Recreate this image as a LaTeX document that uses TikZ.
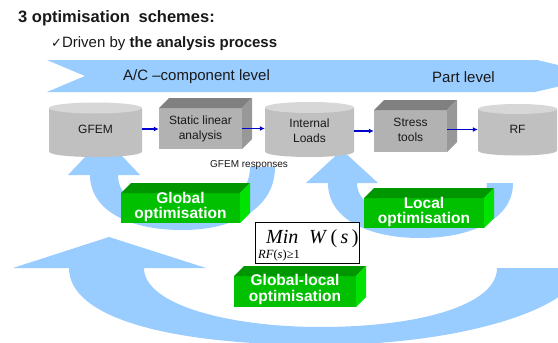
\documentclass[tikz,border=0pt]{standalone}
\usepackage{fontspec}
\setmainfont{Liberation Sans}
\newfontfamily\symfont{DejaVu Sans}
\newfontfamily\timesfont{Liberation Serif}
\usetikzlibrary{arrows.meta}
\definecolor{arcblue}{RGB}{153,204,255}
\definecolor{flowblue}{RGB}{0,0,204}
\definecolor{cylbody}{RGB}{192,192,192}
\definecolor{cyltop}{RGB}{215,215,215}
\definecolor{boxfront}{RGB}{178,178,178}
\definecolor{boxtop}{RGB}{128,128,128}
\definecolor{boxside}{RGB}{152,152,152}
\definecolor{gfront}{RGB}{0,192,0}
\definecolor{gtop}{RGB}{0,150,0}
\definecolor{gside}{RGB}{0,226,0}
\definecolor{txtdark}{RGB}{25,25,25}
% cube: x0 y0 x1 y1 front top side (depth 10)
\newcommand\mycube[7]{%
  \fill[#5] (#1,#2+10) rectangle (#3-10,#4);
  \fill[#6] (#1,#2+10) -- (#1+10,#2) -- (#3,#2) -- (#3-10,#2+10) -- cycle;
  \fill[#7] (#3-10,#2+10) -- (#3,#2) -- (#3,#4-10) -- (#3-10,#4) -- cycle;}
% cylinder: x0 x1 ytop ybottom ry
\newcommand\mycyl[5]{%
  \fill[cylbody] (#1,#3) -- (#1,#4) .. controls (#1,#4+1.333*#5) and (#2,#4+1.333*#5) .. (#2,#4) -- (#2,#3) -- cycle;
  \fill[cyltop] ({(#1+#2)/2},#3) ellipse [x radius={(#2-#1)/2}, y radius=#5];}
\begin{document}
\begin{tikzpicture}[x=1pt,y=-1pt,
  flow/.style={draw=flowblue, line width=1.3pt, -{Latex[length=5pt,width=5pt]}},
  lbl/.style={inner sep=0pt, text=txtdark, align=center},
  gtxt/.style={inner sep=0pt, text=white, align=center, font=\fontsize{15.5}{15.5}\selectfont\bfseries},
  shapenode/.style={inner sep=0pt, text=txtdark, align=center, font=\fontsize{12}{15}\selectfont}]
\useasboundingbox (0,0) rectangle (558,343);
\clip (0,0) rectangle (558,343);
\fill[white] (0,0) rectangle (558,343);

% title lines
\node[lbl, anchor=west] (title) at (18,18) {\fontsize{16.5}{16.5}\selectfont\bfseries 3 optimisation\hspace{4pt} schemes:};
\node[lbl, anchor=west] (drv) at (51,44) {{\symfont\fontsize{13}{13}\selectfont ✓}\fontsize{15}{15}\selectfont Driven by \textbf{the analysis process}};

% banner
\fill[arcblue] (47,60) -- (537,60) -- (604,76) -- (535,92) -- (47,92) -- (85,76) -- cycle;
\node[lbl, anchor=west] (aclvl) at (123,77) {\fontsize{15}{15}\selectfont A/C –component level};
\node[lbl, anchor=west] (partlvl) at (432,77) {\fontsize{15}{15}\selectfont Part level};

% loops
\fill[arcblue] (104,137) -- (140,175) -- (118,175)
  .. controls (118,200) and (145,212) .. (184,212)
  .. controls (225,212) and (250,195) .. (250,167)
  -- (275,167)
  .. controls (275,208) and (235,230) .. (182,230)
  .. controls (125,230) and (90,208) .. (90,175)
  -- (68,175) -- cycle;
\fill[arcblue] (342,150) -- (378,183) -- (357,183)
  .. controls (357,205) and (385,218) .. (422,218)
  .. controls (460,218) and (487,205) .. (487,183)
  -- (513,183)
  .. controls (513,220) and (470,238) .. (420,238)
  .. controls (370,238) and (328,220) .. (328,183)
  -- (306,183) -- cycle;
\fill[arcblue] (109,237) -- (206,268) -- (144,268)
  .. controls (144,305) and (230,327) .. (320,327)
  .. controls (420,327) and (497,305) .. (497,268)
  -- (580,268)
  .. controls (580,305) and (470,345) .. (320,345)
  .. controls (170,345) and (69,318) .. (69,268)
  -- (13,268) -- cycle;

% process shapes
\mycyl{49}{142}{108}{151.5}{5.5}
\mycube{159}{98}{252}{149}{boxfront}{boxtop}{boxside}
\mycyl{265}{354}{107.5}{151.5}{5.5}
\mycube{374}{100}{457}{152}{boxfront}{boxtop}{boxside}
\mycyl{478}{557}{109}{150.5}{5}

\node[shapenode, minimum width=93pt] (gfem) at (95.5,129) {GFEM};
\node[shapenode, minimum width=83pt] (sla) at (200.5,128.5) {Static linear\\analysis};
\node[shapenode, minimum width=89pt] (il) at (309.5,131) {Internal\\Loads};
\node[shapenode, minimum width=73pt] (st) at (410.5,129.5) {Stress\\tools};
\node[shapenode, minimum width=79pt] (rf) at (517.5,129) {RF};

\draw[flow] (gfem.east) -- (gfem.east -| sla.west);
\draw[flow] (sla.east) -- (sla.east -| il.west);
\draw[flow] (il.east) -- (il.east -| st.west);
\draw[flow] (st.east) -- (st.east -| rf.west);

\node[lbl, anchor=west] (resp) at (210,165) {\fontsize{10}{10}\selectfont GFEM responses};

% green boxes
\mycube{121}{183}{250}{223}{gfront}{gtop}{gside}
\node[gtxt] (globopt) at (180.5,207) {Global\\optimisation};
\mycube{364}{188}{494}{228}{gfront}{gtop}{gside}
\node[gtxt] (locopt) at (424,212) {Local\\optimisation};
\mycube{234}{266}{366}{307}{gfront}{gtop}{gside}
\node[gtxt] (gloclopt) at (295,289.5) {Global-local\\optimisation};

% objective
\node[draw=black, line width=0.8pt, fill=white, minimum width=104pt, minimum height=41pt, inner sep=0pt] (obj) at (307,242.5) {};
\node[inner sep=0pt, anchor=base west] (minlbl) at (266,243) {\fontsize{20}{20}\selectfont\timesfont\itshape Min};
\node[inner sep=0pt, anchor=base west] (wlbl) at (309,243) {\fontsize{20}{20}\selectfont\timesfont\textit{W}\,(\,\textit{s}\,)};
\node[inner sep=0pt, anchor=base west] (sublbl) at (258,258) {\fontsize{12.5}{12.5}\selectfont\timesfont\textit{RF}(\textit{s})≥1};
\end{tikzpicture}
\end{document}
